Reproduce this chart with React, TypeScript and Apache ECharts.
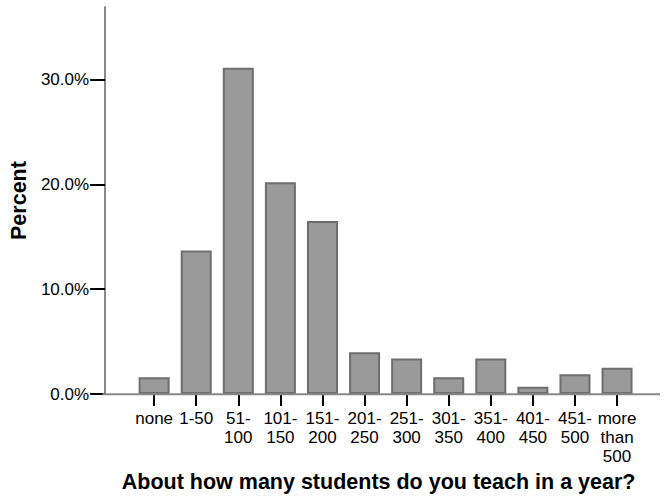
import React, { useEffect, useRef } from "react";
import * as echarts from "echarts";

const categories = [
  "none",
  "1-50",
  "51-\n100",
  "101-\n150",
  "151-\n200",
  "201-\n250",
  "251-\n300",
  "301-\n350",
  "351-\n400",
  "401-\n450",
  "451-\n500",
  "more\nthan\n500",
];
const percentValues = [1.6, 13.7, 31.1, 20.2, 16.5, 4.0, 3.4, 1.6, 3.4, 0.7, 1.9, 2.5];
const yTicks = [0, 10, 20, 30];
const yMax = 36.9;
const xTitle = "About how many students do you teach in a year?";
const yTitle = "Percent";

const FONT = "'Liberation Sans', Arial, Helvetica, sans-serif";

export default function App() {
  const ref = useRef<HTMLDivElement>(null);
  useEffect(() => {
    if (!ref.current) return;
    const chart = echarts.init(ref.current, null, { renderer: "svg" });
    const gridTop = 7;
    const gridHeight = 387.3;
    const axisY = gridTop + gridHeight;
    chart.setOption({
      animation: false,
      backgroundColor: "#ffffff",
      textStyle: { fontFamily: FONT },
      grid: { left: 130.5, right: 27.9, top: gridTop, height: gridHeight, containLabel: false },
      xAxis: {
        type: "category",
        data: categories,
        boundaryGap: true,
        name: xTitle,
        nameLocation: "middle",
        nameGap: 76,
        nameTextStyle: {
          fontFamily: FONT,
          fontSize: 21.5,
          fontWeight: "bold",
          color: "#000",
          padding: [0, 14, 0, 0],
        },
        axisLine: { show: false },
        axisTick: { show: true, alignWithLabel: true, length: 12, lineStyle: { color: "#000", width: 2 } },
        axisLabel: {
          interval: 0,
          margin: 15,
          fontFamily: FONT,
          fontSize: 17,
          lineHeight: 19,
          color: "#000",
          align: "center",
        },
        splitLine: { show: false },
      },
      yAxis: {
        type: "value",
        min: 0,
        max: yMax,
        interval: 10,
        offset: 28,
        name: yTitle,
        nameLocation: "middle",
        nameRotate: 90,
        nameGap: 66,
        nameTextStyle: { fontFamily: FONT, fontSize: 21.5, fontWeight: "bold", color: "#000" },
        axisLine: { show: true, lineStyle: { color: "#888888", width: 2 } },
        axisTick: { show: true, length: 15, customValues: yTicks, lineStyle: { color: "#000", width: 2 } },
        axisLabel: {
          margin: 16,
          customValues: yTicks,
          fontFamily: FONT,
          fontSize: 17,
          color: "#000",
          formatter: (v: number) => v.toFixed(1) + "%",
        },
        splitLine: { show: false },
      },
      series: [
        {
          type: "bar",
          data: percentValues,
          barWidth: 31,
          itemStyle: { color: "#9a9a9a", borderColor: "#6e6e6e", borderWidth: 2 },
        },
      ],
      graphic: [
        {
          type: "line",
          z: 100,
          shape: { x1: 102.5, y1: axisY, x2: 660, y2: axisY },
          style: { stroke: "#888888", lineWidth: 2 },
        },
      ],
    });
    return () => chart.dispose();
  }, []);
  return (
    <div
      ref={ref}
      style={{ position: "fixed", left: 0, top: 0, width: 666, height: 498, background: "#fff" }}
    />
  );
}
